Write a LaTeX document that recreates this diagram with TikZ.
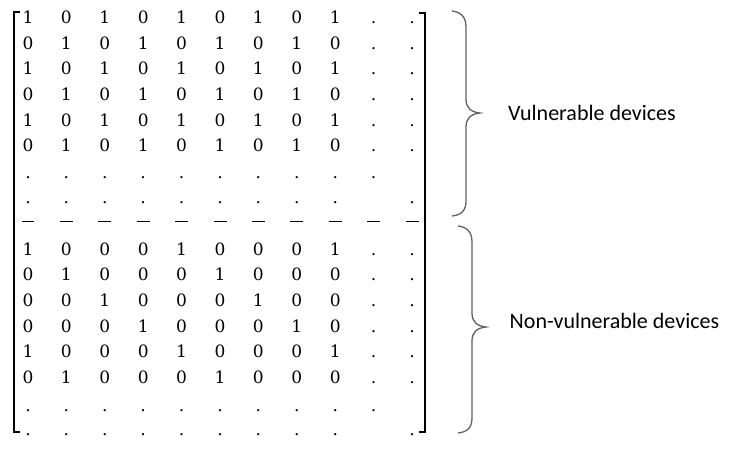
\documentclass[tikz,border=0pt]{standalone}
\usepackage{fontspec}
\newfontfamily\labelfont{Carlito}
\newfontfamily\cellfont{DejaVu Serif}
\begin{document}
\begin{tikzpicture}[x=1pt,y=-1pt,
  cell/.style={anchor=base, inner sep=0pt, font=\cellfont\fontsize{17}{17}\selectfont},
  dashcell/.style={inner sep=0pt},
  bracketline/.style={line width=1.8pt, line cap=butt, line join=miter},
  bracecurve/.style={draw=black!62, line width=1.3pt},
  lbl/.style={anchor=base west, inner sep=0pt, font=\labelfont\fontsize{22}{22}\selectfont}]
\useasboundingbox (0,0) rectangle (729,453);
% matrix entries
\foreach \r/\yy/\lst in {
  1/23.3/{1,0,1,0,1,0,1,0,1,.,.},
  2/49.0/{0,1,0,1,0,1,0,1,0,.,.},
  3/74.7/{1,0,1,0,1,0,1,0,1,.,.},
  4/100.4/{0,1,0,1,0,1,0,1,0,.,.},
  5/126.1/{1,0,1,0,1,0,1,0,1,.,.},
  6/151.8/{0,1,0,1,0,1,0,1,0,.,.},
  7/178.0/{.,.,.,.,.,.,.,.,.,.,{}},
  8/203.0/{.,.,.,.,.,.,.,.,.,{},.},
  9/255.0/{1,0,0,0,1,0,0,0,1,.,.},
  10/280.7/{0,1,0,0,0,1,0,0,0,.,.},
  11/306.4/{0,0,1,0,0,0,1,0,0,.,.},
  12/332.1/{0,0,0,1,0,0,0,1,0,.,.},
  13/357.8/{1,0,0,0,1,0,0,0,1,.,.},
  14/383.5/{0,1,0,0,0,1,0,0,0,.,.},
  15/411.5/{.,.,.,.,.,.,.,.,.,.,{}},
  16/435.5/{.,.,.,.,.,.,.,.,.,{},.}}{
  \foreach \v [count=\c] in \lst {
    \node[cell] (r\r c\c) at ({28+38.4*(\c-1)},\yy) {\v};
  }
}
% separator row
\foreach \c in {1,...,11}{
  \node[dashcell] (d\c) at ({28+38.4*(\c-1)},221) {\rule{13pt}{1pt}};
}
% brackets
\coordinate (lb1) at (20,12); \coordinate (lb2) at (14,12);
\coordinate (lb3) at (14,432); \coordinate (lb4) at (20,432);
\draw[bracketline] (lb1) -- (lb2) -- (lb3) -- (lb4);
\coordinate (rb1) at (419,13); \coordinate (rb2) at (425,13);
\coordinate (rb3) at (425,432); \coordinate (rb4) at (419,432);
\draw[bracketline] (rb1) -- (rb2) -- (rb3) -- (rb4);
% braces
\draw[bracecurve] (452,11) .. controls (461,12) and (466,17) .. (466,27)
  -- (466,99) .. controls (466,108) and (471,112) .. (480,113)
  .. controls (471,114) and (466,118) .. (466,127)
  -- (466,201) .. controls (466,211) and (461,215) .. (452,216);
\draw[bracecurve] (458,226) .. controls (467,227) and (472,232) .. (472,242)
  -- (472,313) .. controls (472,322) and (477,326) .. (486,327)
  .. controls (477,328) and (472,332) .. (472,341)
  -- (472,418) .. controls (472,428) and (467,432) .. (458,433);
% labels
\node[lbl] (vul) at (508,120.5) {Vulnerable devices};
\node[lbl] (nonvul) at (509.5,328) {Non-vulnerable devices};
\end{tikzpicture}
\end{document}
